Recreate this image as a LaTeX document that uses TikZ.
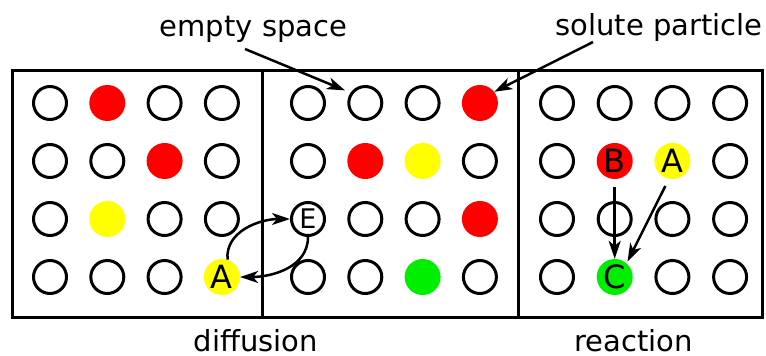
\documentclass[tikz,border=0pt]{standalone}
\usepackage{fontspec}
\setmainfont{DejaVu Sans}
\usetikzlibrary{arrows.meta}
\definecolor{solred}{RGB}{255,0,0}
\definecolor{solyellow}{RGB}{255,255,0}
\definecolor{solgreen}{RGB}{0,238,0}
\begin{document}
\begin{tikzpicture}[x=1pt,y=-1pt,
  site/.style={circle,draw=black,line width=3pt,minimum size=33pt,inner sep=0pt},
  particle/.style={circle,draw=none,minimum size=36pt,inner sep=0pt,
    font=\fontsize{32}{32}\selectfont},
  pr/.style={particle,fill=solred},
  py/.style={particle,fill=solyellow},
  pg/.style={particle,fill=solgreen},
  vac/.style={site,font=\fontsize{27}{27}\selectfont},
  lbl/.style={font=\fontsize{29}{29}\selectfont,anchor=base,inner sep=0pt},
  conn/.style={line width=2.5pt,-{Stealth[length=18pt,width=12pt,inset=5pt]}},
  frame/.style={line width=3pt}
]
\useasboundingbox (0,0) rectangle (766,356);

% frame and dividers
\draw[frame] (12,70) rectangle (762,317);
\draw[frame] (262,70) -- (262,317);
\draw[frame] (518,70) -- (518,317);

% left panel lattice
\foreach \r/\c/\s in {1/1/site,1/2/pr,1/3/site,1/4/site,
                      2/1/site,2/2/site,2/3/pr,2/4/site,
                      3/1/site,3/2/py,3/3/site,3/4/site,
                      4/1/site,4/2/site,4/3/site}
  \node[\s] (L\r\c) at ({50+57.3*(\c-1)},{103+58*(\r-1)}) {};
\node[py] (L44) at ({50+57.3*3},{103+58*3}) {A};

% middle panel lattice
\foreach \r/\c/\s in {1/1/site,1/2/site,1/3/site,1/4/pr,
                      2/1/site,2/2/pr,2/3/py,2/4/site,
                      3/2/site,3/3/site,3/4/pr,
                      4/1/site,4/2/site,4/3/pg,4/4/site}
  \node[\s] (M\r\c) at ({308+57.3*(\c-1)},{103+58*(\r-1)}) {};
\node[vac] (M31) at (308,{103+58*2}) {E};

% right panel lattice
\foreach \r/\c/\s in {1/1/site,1/2/site,1/3/site,1/4/site,
                      2/1/site,2/4/site,
                      3/1/site,3/2/site,3/3/site,3/4/site,
                      4/1/site,4/3/site,4/4/site}
  \node[\s] (R\r\c) at ({557+57.7*(\c-1)},{103+58*(\r-1)}) {};
\node[pr] (R22) at ({557+57.7},{103+58}) {B};
\node[py] (R23) at ({557+57.7*2},{103+58}) {A};
\node[pg] (R42) at ({557+57.7},{103+58*3}) {C};

% labels
\node[lbl] (empty) at (253.5,36) {empty space};
\node[lbl] (solute) at (659,35) {solute particle};
\node[lbl] (diff) at (256,351) {diffusion};
\node[lbl] (react) at (633.5,351) {reaction};

\coordinate (emptyTail) at (245,49);
\coordinate (soluteTail) at (593,42);

% pointers
\draw[conn,shorten >=6pt] (emptyTail) -- (M12.145);
\draw[conn] (soluteTail) -- (M14.38);

% diffusion hop
\draw[conn] (L44.72) to[out=95,in=180] (M31.west);
\draw[conn] (M31.south) to[out=-90,in=0] (L44.east);

% reaction
\draw[conn,shorten <=8pt] (R22.south) -- (R42.north);
\draw[conn,shorten <=8pt,shorten >=2pt] (R23.259) -- (R42.49);
\end{tikzpicture}
\end{document}
